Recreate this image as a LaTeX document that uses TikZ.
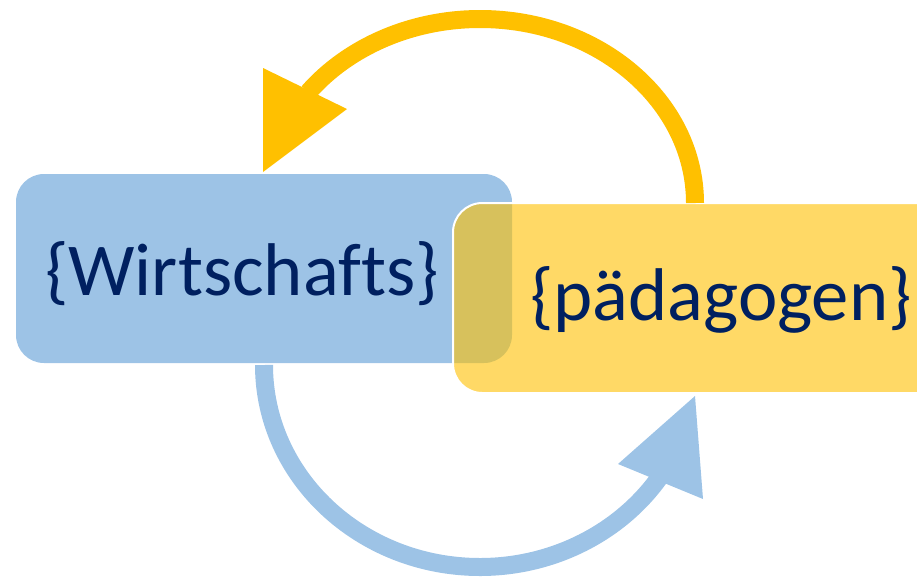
\documentclass[tikz,border=0pt]{standalone}
\usepackage{fontspec}
\setmainfont[Ligatures=NoCommon]{Carlito}
\definecolor{boxblue}{HTML}{9DC3E6}
\definecolor{gold}{HTML}{FFC000}
\definecolor{navy}{HTML}{002060}
\begin{document}
\begin{tikzpicture}[x=0.75pt,y=-0.75pt,
  bluebox/.style={fill=boxblue, draw=none, rounded corners=21pt, inner sep=0pt, outer sep=0pt},
  goldbox/.style={fill=gold, fill opacity=0.6, draw=white, draw opacity=1, line width=1.5pt, rounded corners=22pt, inner sep=0pt, outer sep=0pt},
  lbl/.style={text=navy, font=\fontsize{56}{60}\selectfont, inner sep=0pt, outer sep=0pt},
  goldline/.style={draw=gold, line width=13.5pt},
  blueline/.style={draw=boxblue, line width=13.5pt},
  goldhead/.style={fill=gold, draw=none},
  bluehead/.style={fill=boxblue, draw=none}]
\useasboundingbox (0,0) rectangle (917,576);
\clip (0,0) rectangle (917,576);
% boxes
\node[bluebox, minimum width=372pt, minimum height=141.75pt] (wb) at (264,268.5) {};
\coordinate (bs) at (264,365);
\coordinate (bt1) at (618,464);
\coordinate (bt2) at (695,396);
\coordinate (bt3) at (703,499);
\draw[blueline] (bs) arc[start angle=180, end angle=33, x radius=216, y radius=202];
\fill[bluehead] (bt1) -- (bt2) -- (bt3) -- cycle;
\node[goldbox, minimum width=380.25pt, minimum height=142.5pt] (pb) at (706.5,298) {};
\coordinate (os) at (695,203);
\coordinate (ot1) at (263,68);
\coordinate (ot2) at (263,172);
\coordinate (ot3) at (347,109);
\draw[goldline] (os) arc[start angle=0, end angle=-143, x radius=215, y radius=184];
\fill[goldhead] (ot1) -- (ot2) -- (ot3) -- cycle;
% texts
\node[lbl, anchor=base west] (tw) at (45,295) {\{Wirtschafts\}};
\node[lbl, anchor=base west] (tp) at (530,320) {\{pädagogen\}};
\end{tikzpicture}
\end{document}
